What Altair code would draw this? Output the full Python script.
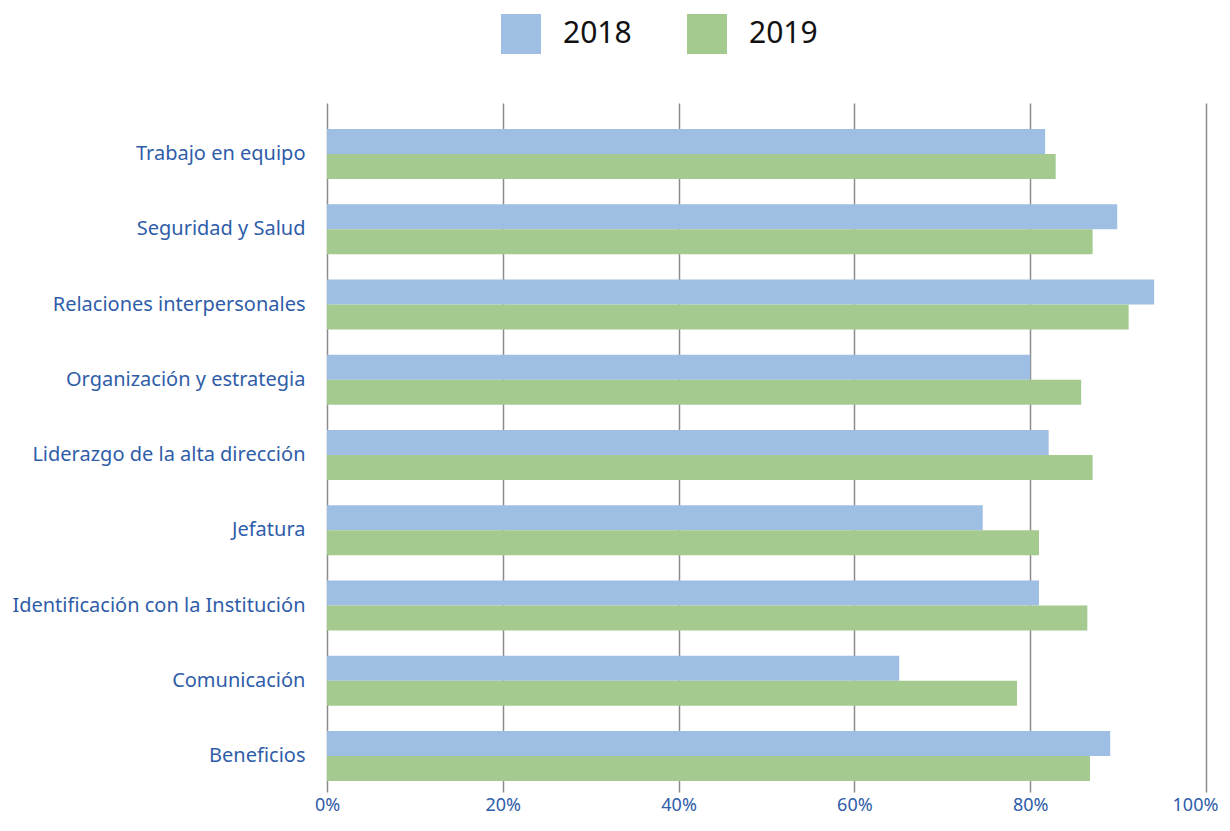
import altair as alt
import pandas as pd

categories = [
    "Trabajo en equipo",
    "Seguridad y Salud",
    "Relaciones interpersonales",
    "Organización y estrategia",
    "Liderazgo de la alta dirección",
    "Jefatura",
    "Identificación con la Institución",
    "Comunicación",
    "Beneficios",
]
values_2018 = [0.817, 0.899, 0.941, 0.800, 0.821, 0.746, 0.810, 0.651, 0.891]
values_2019 = [0.829, 0.871, 0.912, 0.858, 0.871, 0.810, 0.865, 0.785, 0.868]
years = ["2018", "2019"]
x_ticks = [0, 0.2, 0.4, 0.6, 0.8, 1.0]
colors = ["#9EBEE3", "#A4CA8F"]

rows = []
for cat, a, b in zip(categories, values_2018, values_2019):
    rows.append({"categoria": cat, "anio": years[0], "valor": a})
    rows.append({"categoria": cat, "anio": years[1], "valor": b})
df = pd.DataFrame(rows)

FONT = "Noto Sans"
LABEL_BLUE = "#2F5DA9"

chart = alt.Chart(df).mark_bar().encode(
    y=alt.Y(
        "categoria:N",
        sort=categories,
        scale=alt.Scale(paddingInner=0.3355, paddingOuter=0.2458, align=0.703),
        axis=alt.Axis(
            title=None, domain=False, ticks=False, grid=False,
            labelPadding=22, labelFontSize=20, labelColor=LABEL_BLUE,
            labelFont=FONT, labelLimit=400,
        ),
    ),
    yOffset=alt.YOffset(
        "anio:N", sort=years, scale=alt.Scale(paddingInner=0, paddingOuter=0)
    ),
    x=alt.X(
        "valor:Q",
        scale=alt.Scale(domain=[0, 1], nice=False),
        axis=alt.Axis(
            values=x_ticks, format="%", title=None, grid=True,
            gridColor="#8c8c8c", gridWidth=1.5, domain=False, ticks=False,
            labelPadding=4, labelFontSize=18, labelColor=LABEL_BLUE,
            labelFont=FONT, labelFlush=False,
            labelOffset=alt.condition("datum.value >= 1", alt.value(-11), alt.value(0)),
        ),
    ),
    color=alt.Color(
        "anio:N",
        scale=alt.Scale(domain=years, range=colors),
        legend=alt.Legend(
            title=None, orient="none", legendX=174, legendY=-89,
            direction="horizontal", symbolType="square", symbolSize=1600,
            symbolStrokeWidth=0, symbolOpacity=1, labelFontSize=30,
            labelFont=FONT, labelColor="#111111", labelOffset=22,
            columnPadding=55, padding=0,
        ),
    ),
).properties(
    width=879,
    height=689,
    autosize=alt.AutoSizeParams(type="none"),
    padding={"left": 319, "top": 95, "right": 14, "bottom": 26},
).configure_view(stroke=None)

chart.save("out.html", embed_options={"renderer": "svg", "actions": False})
